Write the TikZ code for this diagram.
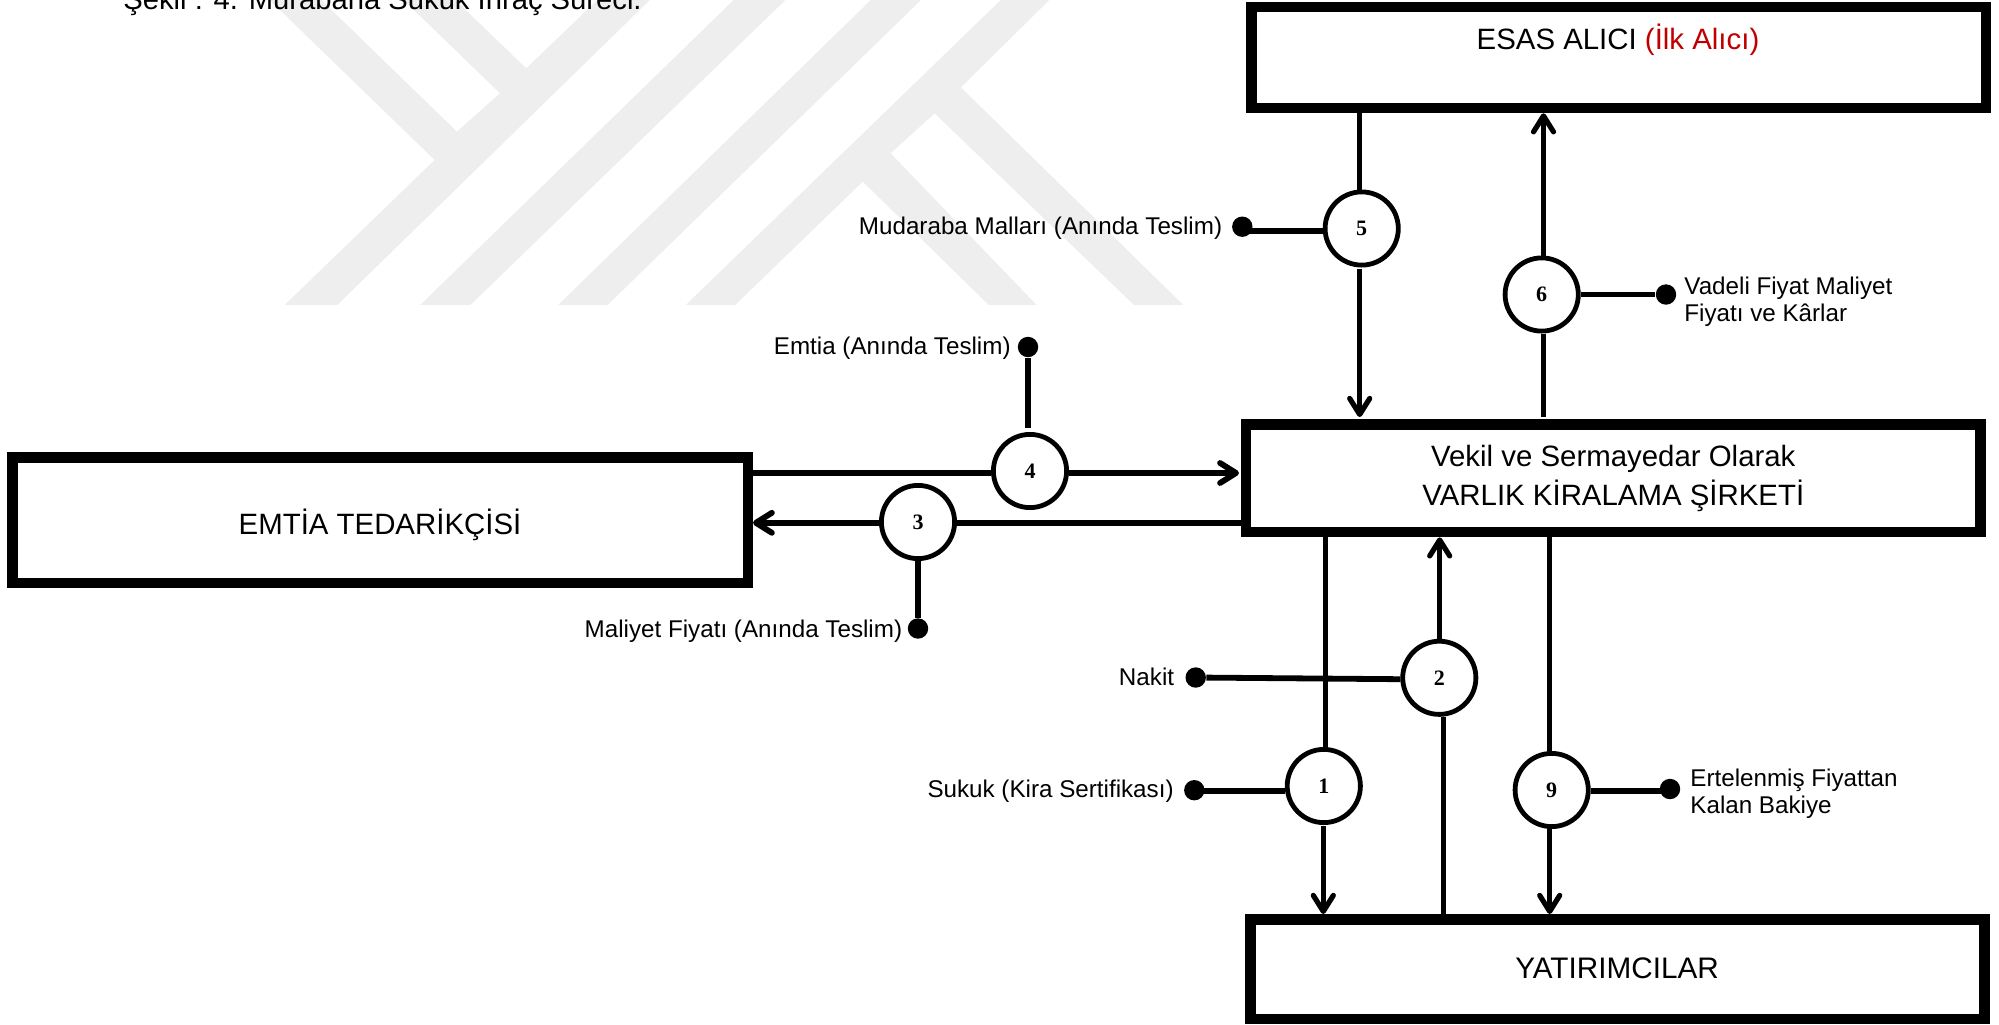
\documentclass[tikz,border=0pt]{standalone}
\usepackage{fontspec}
\setmainfont{Liberation Sans}
\newfontfamily\numfont{Liberation Serif}
\usetikzlibrary{arrows.meta}
\definecolor{wm}{HTML}{EEEEEE}
\definecolor{redtxt}{HTML}{C00000}
\tikzset{
  x=0.5pt,y=-0.5pt,
  bigbox/.style={draw=black,line width=5.25pt,fill=white,inner sep=0pt,font=\fontsize{14.7}{19.4}\selectfont,align=center},
  bigtxt/.style={inner sep=0pt,font=\fontsize{14.7}{19.4}\selectfont,align=center},
  numc/.style={circle,draw=black,line width=2.4pt,fill=white,inner sep=0pt,minimum size=36.6pt,font=\numfont\bfseries\fontsize{11}{12}\selectfont},
  blob/.style={circle,fill=black,inner sep=0pt,minimum size=10.2pt},
  lab/.style={inner sep=0pt,font=\fontsize{12.1}{13.5}\selectfont,align=left},
  link/.style={line width=2.6pt,draw=black},
  flow/.style={line width=2.6pt,draw=black,-{Straight Barb[length=8pt,width=10pt,round]}},
  thick link/.style={line width=2.9pt,draw=black},
  thick flow/.style={line width=2.9pt,draw=black,-{Straight Barb[length=8pt,width=10pt,round]}},
  wmark/.style={fill=wm,draw=none}
}
\begin{document}
\begin{tikzpicture}
\useasboundingbox (0,0) rectangle (1999,1024);
% watermark
\begin{scope}[xscale=0.7974,yscale=0.3333]
\fill[wmark] (357,915)--(545,480)--(338,0)--(403,0)--(573,395)--(627,280)--(506,0)--(571,0)--(660,205)--(749,0)--(815,0)--(423,915)--cycle;
\fill[wmark] (527,915)--(920,0)--(985,0)--(590,915)--cycle;
\fill[wmark] (700,915)--(1092,0)--(1155,0)--(762,915)--cycle;
\fill[wmark] (860,915)--(1255,0)--(1316,0)--(1205,262)--(1484,915)--(1422,915)--(1172,340)--(1117,460)--(1300,915)--(1240,915)--(1082,545)--(922,915)--cycle;
\end{scope}
% caption
\node[anchor=base west,inner sep=0pt,font=\fontsize{14.6}{17}\selectfont] (cap) at (123,9.5) {Şekil : 4. Murabaha Sukuk İhraç Süreci.};
% boxes
\node[bigbox,minimum width=367.25pt,minimum height=50.4pt] (esas) at (1618.5,57.6) {};
\node[bigtxt] (esastxt) at (1618,40) {ESAS ALICI \textcolor{redtxt}{(İlk Alıcı)}};
\node[bigbox,minimum width=367.1pt,minimum height=53.9pt] (vekil) at (1613.3,478.2) {Vekil ve Sermayedar Olarak\\VARLIK KİRALAMA ŞİRKETİ};
\node[bigbox,minimum width=367.1pt,minimum height=49.75pt] (yat) at (1617.6,969) {};
\node[bigtxt,font=\fontsize{14.85}{19.4}\selectfont] (yattxt) at (1617,968) {YATIRIMCILAR};
\node[bigbox,minimum width=367.75pt,minimum height=62.75pt] (emtia) at (380,520) {};
\node[bigtxt] (emtiatxt) at (380,525) {EMTİA TEDARİKÇİSİ};
% circles
\node[numc] (c5) at (1361.7,228.5) {5};
\node[numc] (c6) at (1541.7,294.5) {6};
\node[numc] (c4) at (1030,471) {4};
\node[numc] (c3) at (918,522) {3};
\node[numc] (c2) at (1439.3,677.8) {2};
\node[numc] (c1) at (1323.8,786) {1};
\node[numc] (c9) at (1551.7,790) {9};
% dots
\node[blob] (d5) at (1242.3,226.7) {};
\node[blob] (d6) at (1666,294.5) {};
\node[blob] (d4) at (1028,347) {};
\node[blob] (d3) at (918,628.5) {};
\node[blob] (d2) at (1195.7,677.5) {};
\node[blob] (d1) at (1194.3,790.2) {};
\node[blob] (d9) at (1670,789) {};
% labels
\node[lab,anchor=east] (l5) at (1222.5,228.5) {Mudaraba Malları (Anında Teslim)};
\node[lab,anchor=west] (l6) at (1684,302) {Vadeli Fiyat Maliyet\\Fiyatı ve Kârlar};
\node[lab,anchor=east] (l4) at (1011,348) {Emtia (Anında Teslim)};
\node[lab,anchor=east] (l3) at (902.5,631.5) {Maliyet Fiyatı (Anında Teslim)};
\node[lab,anchor=east] (l2) at (1174.5,677) {Nakit};
\node[lab,anchor=east] (l1) at (1174,791) {Sukuk (Kira Sertifikası)};
\node[lab,anchor=west] (l9) at (1690,793.5) {Ertelenmiş Fiyattan\\Kalan Bakiye};
% connectors
\draw[link] ([xshift=-1pt]c5.north) -- ([xshift=-1pt]c5.north |- esas.south);
\draw[flow,shorten >=1pt] ([xshift=-1pt,yshift=-0.7pt]c5.south) -- ([xshift=-1pt]c5.south |- vekil.north);
\draw[link,shorten >=1pt] ([xshift=0.9pt]c6.south) -- ([xshift=0.9pt]c6.south |- vekil.north);
\draw[flow] ([xshift=0.9pt]c6.north) -- ([xshift=0.9pt]c6.north |- esas.south);
\draw[thick link] ([yshift=-1pt]c4.west) -- ([yshift=-1pt]c4.west -| emtia.east);
\draw[thick flow,shorten >=1pt] ([yshift=-1pt]c4.east) -- ([yshift=-1pt]c4.east -| vekil.west);
\draw[thick link] ([yshift=-0.4pt]c3.east) -- ([yshift=-0.4pt]c3.east -| vekil.west);
\draw[thick flow] ([yshift=-0.4pt]c3.west) -- ([yshift=-0.4pt]c3.west -| emtia.east);
\draw[link] ([xshift=0.75pt]c1.north) -- ([xshift=0.75pt]c1.north |- vekil.south);
\draw[flow] ([xshift=-0.25pt,yshift=-0.5pt]c1.south) -- ([xshift=-0.25pt]c1.south |- yat.north);
\draw[flow] ([xshift=0.2pt]c2.north) -- ([xshift=0.2pt]c2.north |- vekil.south);
\draw[link] ([xshift=2.2pt]c2.south) -- ([xshift=2.2pt]c2.south |- yat.north);
\draw[link] ([xshift=-1pt]c9.north) -- ([xshift=-1pt]c9.north |- vekil.south);
\draw[flow] ([xshift=-1pt]c9.south) -- ([xshift=-1pt]c9.south |- yat.north);
\draw[thick link] ([yshift=-1.4pt]c5.west) -- ([yshift=-1.4pt]c5.west -| d5);
\draw[thick link] (c6.east) -- (d6);
\draw[link] (c4.north) ++(-1pt,2pt) -- (d4);
\draw[link] (c3.south) -- (d3);
\draw[thick link] ([yshift=-0.7pt]c2.west) -- (d2);
\draw[thick link] ([yshift=-2.5pt]c1.west) -- ([yshift=-2.5pt]c1.west -| d1);
\draw[thick link] ([yshift=-0.5pt]c9.east) -- ([yshift=-0.5pt]c9.east -| d9);
\end{tikzpicture}
\end{document}
